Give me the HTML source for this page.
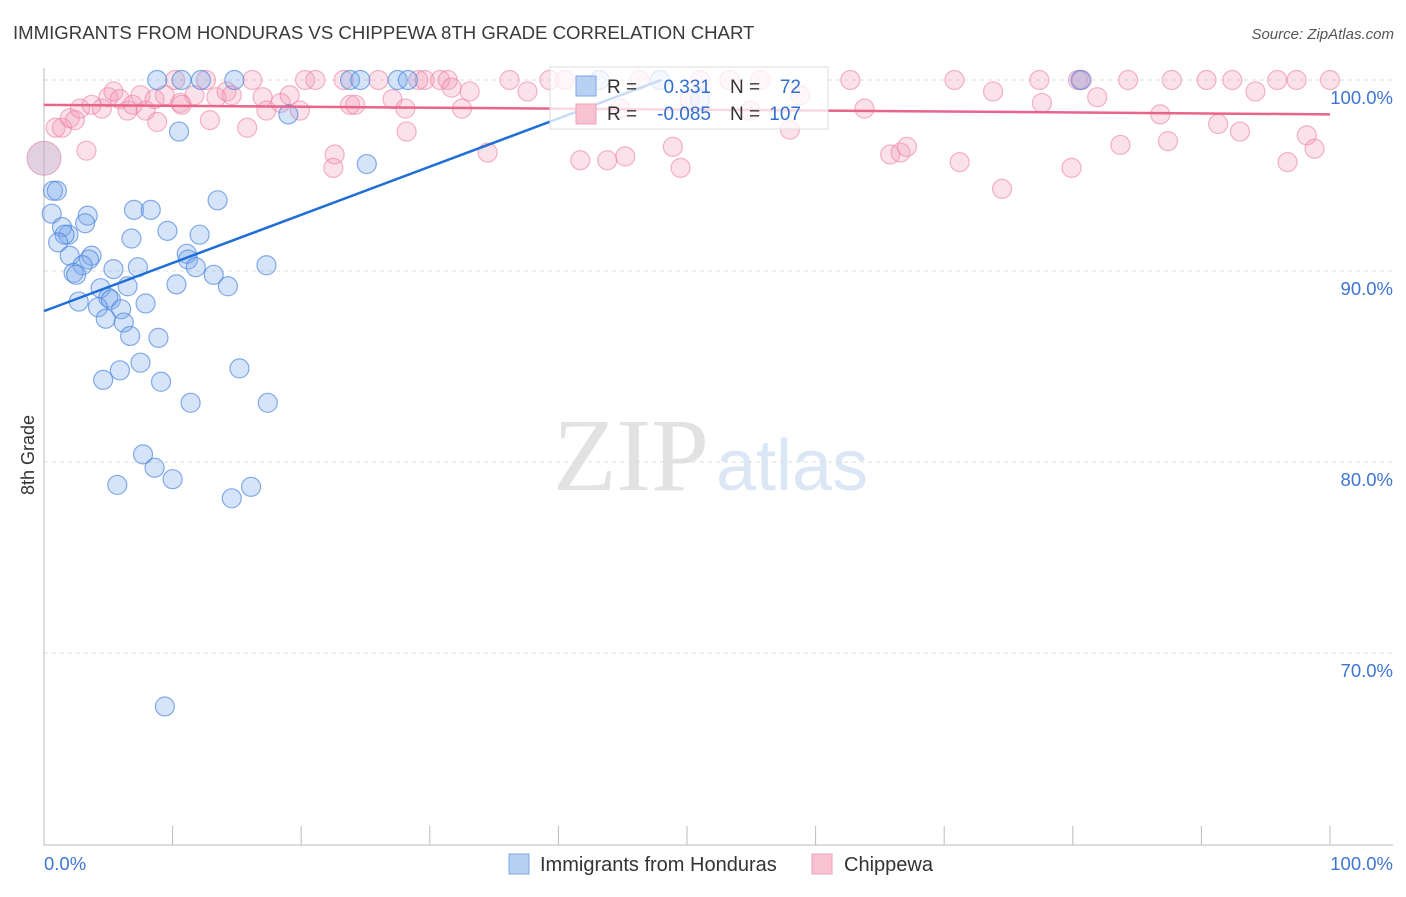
<!DOCTYPE html>
<html><head><meta charset="utf-8"><style>
html,body{margin:0;padding:0;background:#fff;}
body{width:1406px;height:892px;overflow:hidden;font-family:"Liberation Sans",sans-serif;}
</style></head><body>
<svg id="chart" width="1406" height="892" viewBox="0 0 1406 892" xmlns="http://www.w3.org/2000/svg" font-family="Liberation Sans, sans-serif">
<text x="13" y="39" font-size="18.6" fill="#3a3a3a">IMMIGRANTS FROM HONDURAS VS CHIPPEWA 8TH GRADE CORRELATION CHART</text>
<text x="1394" y="39" font-size="15" fill="#555" font-style="italic" text-anchor="end">Source: ZipAtlas.com</text>
<g>
<text x="553" y="490" style="font-family:'Liberation Serif',serif" font-size="104" fill="#e2e2e2">ZIP</text>
<text x="716" y="490" font-size="72" fill="#dce7f6">atlas</text>
</g>
<g id="grid"></g>
<g id="axes"></g>
<g id="pink"></g>
<g id="blue"></g>
<g id="lines"></g>
<g>
<rect x="550" y="67" width="278" height="62" fill="rgba(255,255,255,0.75)" stroke="#ddd"/>
<rect x="576" y="76" width="20" height="20" fill="#b8d0f2" stroke="#7ea6e6"/>
<rect x="576" y="104" width="20" height="20" fill="#f7c3d2" stroke="#f0a0b8"/>
<text x="607" y="93" font-size="19" fill="#333">R =</text>
<text x="711" y="93" font-size="19" fill="#2f6fd1" text-anchor="end">0.331</text>
<text x="730" y="93" font-size="19" fill="#333">N =</text>
<text x="801" y="93" font-size="19" fill="#2f6fd1" text-anchor="end">72</text>
<text x="607" y="120" font-size="19" fill="#333">R =</text>
<text x="711" y="120" font-size="19" fill="#2f6fd1" text-anchor="end">-0.085</text>
<text x="730" y="120" font-size="19" fill="#333">N =</text>
<text x="801" y="120" font-size="19" fill="#2f6fd1" text-anchor="end">107</text>
</g>
<g>
<rect x="509" y="854" width="20" height="20" fill="#b8d0f2" stroke="#7ea6e6"/>
<text x="540" y="871" font-size="20" fill="#333">Immigrants from Honduras</text>
<rect x="812" y="854" width="20" height="20" fill="#f7c3d2" stroke="#f0a0b8"/>
<text x="844" y="871" font-size="20" fill="#333">Chippewa</text>
</g>
<text transform="translate(34,455) rotate(-90)" font-size="18" fill="#333" text-anchor="middle">8th Grade</text>
</svg>
<script>
const yTicks=[100,90,80,70];
const yTickLabels=["100.0%","90.0%","80.0%","70.0%"];
const xEndLabels=["0.0%","100.0%"];
const blueX=[8.8,10.7,12.2,14.8,23.8,24.6,27.5,28.3,10.5,19.0,25.1,0.7,1.0,0.6,3.4,3.2,1.4,1.9,1.6,1.1,7.0,8.3,13.5,9.6,12.1,6.8,11.1,11.2,3.7,3.5,2.0,3.0,5.4,7.3,11.8,17.3,2.3,2.5,13.2,10.3,14.3,6.5,4.4,5.0,5.2,2.7,7.9,4.2,6.0,4.8,6.2,6.7,8.9,7.5,5.9,4.6,9.1,15.2,11.4,17.4,7.7,8.6,10.0,5.7,14.6,16.1,9.4,43.2,47.9,51.0,80.6];
const blueY=[100,100,100,100,100,100,100,100,97.3,98.2,95.6,94.2,94.2,93.0,92.9,92.5,92.3,91.9,91.9,91.5,93.2,93.2,93.7,92.1,91.9,91.7,90.9,90.6,90.8,90.6,90.8,90.3,90.1,90.2,90.2,90.3,89.9,89.8,89.8,89.3,89.2,89.2,89.1,88.6,88.5,88.4,88.3,88.1,88.0,87.5,87.3,86.6,86.5,85.2,84.8,84.3,84.2,84.9,83.1,83.1,80.4,79.7,79.1,78.8,78.1,78.7,67.2,100,100,99.0,100];
const pinkX=[0.9,1.4,2.0,2.4,3.3,2.8,3.7,4.5,5.0,5.4,5.9,6.5,6.9,7.5,7.9,8.8,8.6,9.4,10.2,10.6,10.7,11.7,12.6,12.9,13.4,14.2,14.6,15.8,16.2,17.0,17.3,18.4,19.1,19.9,20.3,21.1,22.6,22.5,23.3,23.8,24.2,26.0,27.1,28.1,28.2,29.1,29.6,30.8,31.4,31.7,32.5,33.1,34.5,36.2,37.6,39.3,40.5,41.7,43.8,45.2,46.3,48.9,49.5,51.0,53.3,55.7,58.0,58.8,62.7,63.8,65.8,66.6,67.1,70.8,71.2,73.8,74.5,77.4,77.6,79.9,80.4,80.7,81.9,83.7,84.3,86.8,87.4,87.7,90.4,91.3,92.4,93.0,94.2,95.9,96.7,97.4,98.2,98.8,100,50.2,54.9,44.8];
const pinkY=[97.5,97.5,98.0,97.9,96.3,98.5,98.7,98.5,99.1,99.4,99.0,98.4,98.7,99.2,98.4,97.8,99.0,99.2,100,98.8,98.7,99.2,100,97.9,99.1,99.4,99.2,97.5,100,99.1,98.4,98.8,99.2,98.4,100,100,96.1,95.4,100,98.7,98.7,100,99.0,98.5,97.3,100,100,100,100,99.6,98.5,99.4,96.2,100,99.4,100,100,95.8,95.8,96.0,100,96.5,95.4,100,100,100,97.4,99.2,100,98.5,96.1,96.2,96.5,100,95.7,99.4,94.3,100,98.8,95.4,100,100,99.1,96.6,100,98.2,96.8,100,100,97.7,100,97.3,99.4,100,95.7,100,97.1,96.4,100,99.0,98.4,98.5];
const bigPoint=[0,95.9];
const blueTrend=[[0,87.9],[48,100]];
const pinkTrend=[[0,98.7],[100,98.2]];

const NS="http://www.w3.org/2000/svg";
const X0=44,X1=1330,Y100=80,PXPER10=191;
const sx=v=>X0+(X1-X0)*v/100;
const sy=v=>Y100+(100-v)*PXPER10/10;
function mk(tag,attrs,parent){const e=document.createElementNS(NS,tag);for(const k in attrs)e.setAttribute(k,attrs[k]);parent.appendChild(e);return e;}
const grid=document.getElementById('grid'),axes=document.getElementById('axes');
yTicks.forEach((t,i)=>{
  const l=mk('line',{x1:X0,x2:1393,y1:sy(t),y2:sy(t),stroke:'#dcdcdc','stroke-dasharray':'4,4'},grid);
  
  
  const tx=mk('text',{x:1393,y:sy(t)+24,'font-size':18.5,fill:'#3f75d4','text-anchor':'end'},axes);
  tx.textContent=yTickLabels[i];
  
  
});
const ya=mk('line',{x1:X0,x2:X0,y1:68,y2:845,stroke:'#bbb'},axes);


const xa=mk('line',{x1:X0,x2:1393,y1:845,y2:845,stroke:'#bbb'},axes);


for(let i=0;i<=10;i++){
  const tk=mk('line',{x1:sx(i*10),x2:sx(i*10),y1:826,y2:845,stroke:'#bbb'},axes);
  
  
}
const xl0=mk('text',{x:44,y:870,'font-size':18.5,fill:'#3f75d4'},axes);xl0.textContent=xEndLabels[0];


const xl1=mk('text',{x:1393,y:870,'font-size':18.5,fill:'#3f75d4','text-anchor':'end'},axes);xl1.textContent=xEndLabels[1];



const pg=document.getElementById('pink'),bg=document.getElementById('blue');
pinkX.forEach((x,i)=>{
  const c=mk('circle',{cx:sx(x),cy:sy(pinkY[i]),r:9.5,fill:'rgba(242,150,180,0.28)',stroke:'rgba(236,130,165,0.6)','stroke-width':1.2},pg);
  
  
});
const bp=mk('circle',{cx:sx(bigPoint[0]),cy:sy(bigPoint[1]),r:17,fill:'rgba(200,170,200,0.55)',stroke:'rgba(220,140,170,0.7)'},pg);


blueX.forEach((x,i)=>{
  const c=mk('circle',{cx:sx(x),cy:sy(blueY[i]),r:9.5,fill:'rgba(120,165,235,0.3)',stroke:'rgba(70,130,220,0.65)','stroke-width':1.2},bg);
  
  
});
const lg=document.getElementById('lines');
const bl=mk('line',{x1:sx(blueTrend[0][0]),y1:sy(blueTrend[0][1]),x2:sx(blueTrend[1][0]),y2:sy(blueTrend[1][1]),stroke:'#1f6fd6','stroke-width':2.5},lg);


const pl=mk('line',{x1:sx(pinkTrend[0][0]),y1:sy(pinkTrend[0][1]),x2:sx(pinkTrend[1][0]),y2:sy(pinkTrend[1][1]),stroke:'#e8648a','stroke-width':2.5},lg);


</script>
</body></html>
